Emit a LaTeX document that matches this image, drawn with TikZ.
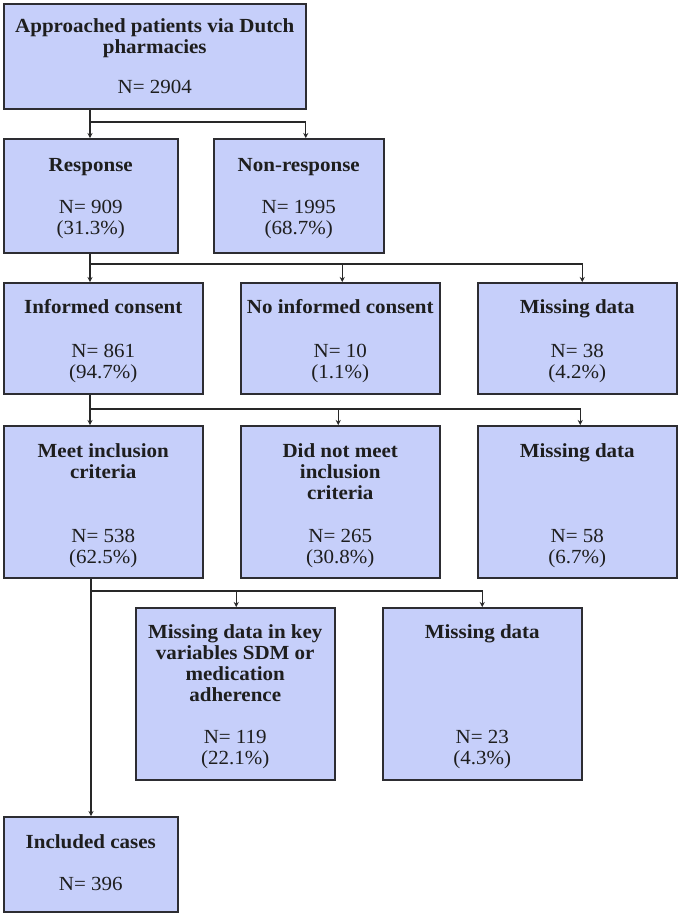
\documentclass[tikz,border=0pt]{standalone}
\usepackage{fontspec}
\setmainfont{Liberation Serif}[FakeStretch=1.05]
\usetikzlibrary{arrows.meta,calc}
\definecolor{boxfill}{RGB}{198,207,250}
\definecolor{boxline}{RGB}{45,45,50}
\definecolor{txtc}{RGB}{30,30,30}
\definecolor{connc}{RGB}{40,40,40}
\begin{document}
\begin{tikzpicture}[x=1pt,y=-1pt,
 box/.style={draw=boxline,fill=boxfill,line width=1.5pt,inner sep=0pt,anchor=north west},
 ttl/.style={anchor=base,inner sep=0pt,text=txtc,font=\fontsize{20}{21}\selectfont\bfseries},
 num/.style={anchor=base,inner sep=0pt,text=txtc,font=\fontsize{20}{21}\selectfont},
 link/.style={draw=connc,line width=1.2pt},
 arr/.style={link,-{Stealth[length=5pt,width=5pt]}}]
\useasboundingbox (0,0) rectangle (678,914);

% boxes
\node[box,minimum width=302pt,minimum height=105pt] (b1) at (3,3) {};
\node[box,minimum width=174pt,minimum height=114pt] (resp) at (3,138) {};
\node[box,minimum width=170pt,minimum height=114pt] (nonresp) at (213,138) {};
\node[box,minimum width=199pt,minimum height=111pt] (ic) at (3,282) {};
\node[box,minimum width=199pt,minimum height=111pt] (nic) at (240,282) {};
\node[box,minimum width=199pt,minimum height=111pt] (md1) at (477,282) {};
\node[box,minimum width=199pt,minimum height=152pt] (meet) at (3,425) {};
\node[box,minimum width=199pt,minimum height=152pt] (dnm) at (240,425) {};
\node[box,minimum width=199pt,minimum height=152pt] (md2) at (477,425) {};
\node[box,minimum width=199pt,minimum height=172pt] (mdk) at (135,607) {};
\node[box,minimum width=199pt,minimum height=172pt] (md3) at (382,607) {};
\node[box,minimum width=174pt,minimum height=95pt] (incl) at (3,816) {};

% texts
\node[ttl] (t1a) at ([yshift=-29pt]b1.north) {Approached patients via Dutch};
\node[ttl] (t1b) at ([yshift=-50pt]b1.north) {pharmacies};
\node[num] (t1n) at ([yshift=-90pt]b1.north) {N= 2904};

\node[ttl] (t2a) at ([yshift=-33pt]resp.north) {Response};
\node[num] (t2n) at ([yshift=-75pt]resp.north) {N= 909};
\node[num] (t2p) at ([yshift=-96pt]resp.north) {(31.3\%)};

\node[ttl] (t3a) at ([yshift=-33pt]nonresp.north) {Non-response};
\node[num] (t3n) at ([yshift=-75pt]nonresp.north) {N= 1995};
\node[num] (t3p) at ([yshift=-96pt]nonresp.north) {(68.7\%)};

\node[ttl] (t4a) at ([yshift=-31pt]ic.north) {Informed consent};
\node[num] (t4n) at ([yshift=-75pt]ic.north) {N= 861};
\node[num] (t4p) at ([yshift=-96pt]ic.north) {(94.7\%)};

\node[ttl] (t5a) at ([yshift=-31pt]nic.north) {No informed consent};
\node[num] (t5n) at ([yshift=-75pt]nic.north) {N= 10};
\node[num] (t5p) at ([yshift=-96pt]nic.north) {(1.1\%)};

\node[ttl] (t6a) at ([yshift=-31pt]md1.north) {Missing data};
\node[num] (t6n) at ([yshift=-75pt]md1.north) {N= 38};
\node[num] (t6p) at ([yshift=-96pt]md1.north) {(4.2\%)};

\node[ttl] (t7a) at ([yshift=-32pt]meet.north) {Meet inclusion};
\node[ttl] (t7b) at ([yshift=-53pt]meet.north) {criteria};
\node[num] (t7n) at ([yshift=-117pt]meet.north) {N= 538};
\node[num] (t7p) at ([yshift=-138pt]meet.north) {(62.5\%)};

\node[ttl] (t8a) at ([yshift=-32pt]dnm.north) {Did not meet};
\node[ttl] (t8b) at ([yshift=-53pt]dnm.north) {inclusion};
\node[ttl] (t8c) at ([yshift=-74pt]dnm.north) {criteria};
\node[num] (t8n) at ([yshift=-117pt]dnm.north) {N= 265};
\node[num] (t8p) at ([yshift=-138pt]dnm.north) {(30.8\%)};

\node[ttl] (t9a) at ([yshift=-32pt]md2.north) {Missing data};
\node[num] (t9n) at ([yshift=-117pt]md2.north) {N= 58};
\node[num] (t9p) at ([yshift=-138pt]md2.north) {(6.7\%)};

\node[ttl] (t10a) at ([yshift=-31pt]mdk.north) {Missing data in key};
\node[ttl] (t10b) at ([yshift=-52pt]mdk.north) {variables SDM or};
\node[ttl] (t10c) at ([yshift=-73pt]mdk.north) {medication};
\node[ttl] (t10d) at ([yshift=-94pt]mdk.north) {adherence};
\node[num] (t10n) at ([yshift=-136pt]mdk.north) {N= 119};
\node[num] (t10p) at ([yshift=-157pt]mdk.north) {(22.1\%)};

\node[ttl] (t11a) at ([yshift=-31pt]md3.north) {Missing data};
\node[num] (t11n) at ([yshift=-136pt]md3.north) {N= 23};
\node[num] (t11p) at ([yshift=-157pt]md3.north) {(4.3\%)};

\node[ttl] (t12a) at ([yshift=-32pt]incl.north) {Included cases};
\node[num] (t12n) at ([yshift=-74pt]incl.north) {N= 396};

% connectors
\coordinate (j1) at (90,122);
\coordinate (j2) at (90,264);
\coordinate (j3) at (90,409);
\coordinate (j4) at (91,591);

\draw[link] (b1.south -| j1) -- (j1);
\draw[arr] (j1) -- (resp.north -| j1);
\draw[arr] (j1) -| ([xshift=7pt]nonresp.north);

\draw[link] (resp.south -| j2) -- (j2);
\draw[arr] (j2) -- (ic.north -| j2);
\draw[arr] (j2) -| ([xshift=2pt]nic.north);
\draw[arr] (j2) -| ([xshift=5pt]md1.north);

\draw[link] (ic.south -| j3) -- (j3);
\draw[arr] (j3) -- (meet.north -| j3);
\draw[arr] (j3) -| ([xshift=-2pt]dnm.north);
\draw[arr] (j3) -| ([xshift=3pt]md2.north);

\draw[arr] (meet.south -| j4) -- (incl.north -| j4);
\draw[arr] (j4) -| ([xshift=1pt]mdk.north);
\draw[arr] (j4) -| ([xshift=0pt]md3.north);
\end{tikzpicture}
\end{document}
